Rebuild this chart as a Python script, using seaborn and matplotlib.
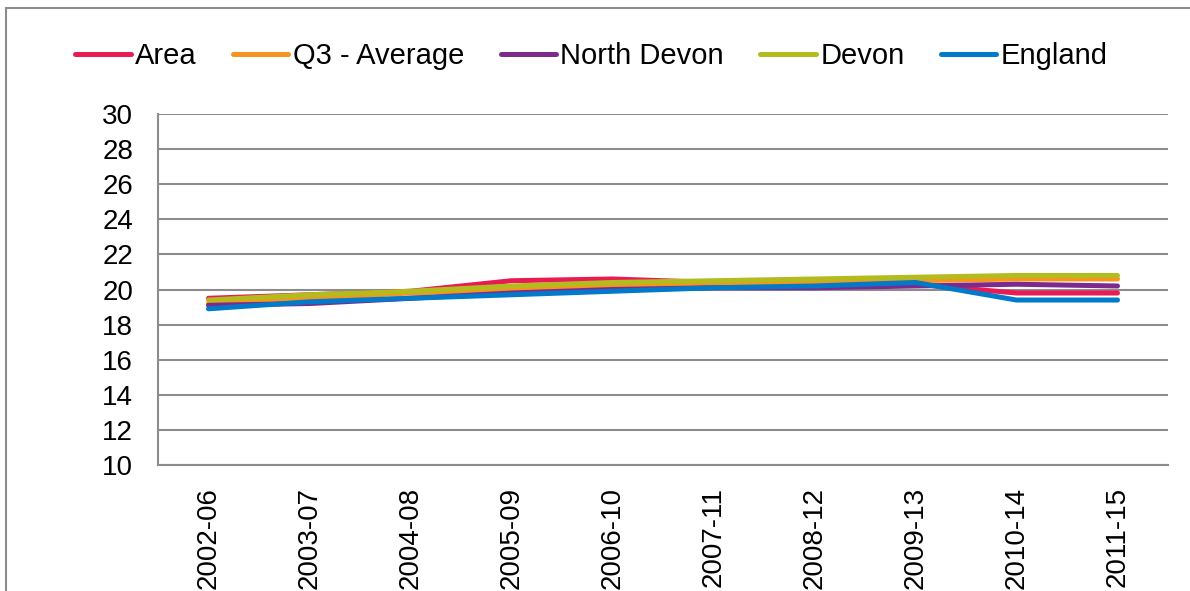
import pandas as pd
import seaborn as sns
import matplotlib.pyplot as plt
from matplotlib.lines import Line2D

# Data
periods = ["2002-06", "2003-07", "2004-08", "2005-09", "2006-10",
           "2007-11", "2008-12", "2009-13", "2010-14", "2011-15"]
area = [19.5, 19.7, 19.9, 20.5, 20.6, 20.4, 20.3, 20.3, 19.8, 19.8]
q3_average = [19.2, 19.5, 19.8, 20.0, 20.2, 20.3, 20.4, 20.5, 20.6, 20.6]
north_devon = [19.1, 19.2, 19.5, 19.8, 20.0, 20.1, 20.1, 20.2, 20.3, 20.2]
devon = [19.4, 19.7, 19.9, 20.2, 20.4, 20.5, 20.6, 20.7, 20.8, 20.8]
england = [18.9, 19.3, 19.5, 19.7, 19.9, 20.1, 20.2, 20.4, 19.4, 19.4]

series = {
    "Area": area,
    "Q3 - Average": q3_average,
    "North Devon": north_devon,
    "Devon": devon,
    "England": england,
}
colours = {
    "Area": "#EA1A55",
    "Q3 - Average": "#F7941D",
    "North Devon": "#7D2A8F",
    "Devon": "#B3BC1E",
    "England": "#007AC9",
}

df = pd.DataFrame(
    [(p, name, v) for name, vals in series.items() for p, v in zip(periods, vals)],
    columns=["period", "series", "value"],
)

sns.set_style("white")
plt.rcParams["font.family"] = ["Liberation Sans", "DejaVu Sans"]
plt.rcParams["text.color"] = "black"
plt.rcParams["xtick.labelcolor"] = "black"
plt.rcParams["ytick.labelcolor"] = "black"

fig = plt.figure(figsize=(11.9, 5.91), dpi=100)
ax = fig.add_axes([158 / 1190, 126 / 591, 1010 / 1190, 351 / 591])

sns.lineplot(data=df, x="period", y="value", hue="series", palette=colours,
             sort=False, linewidth=3.6, ax=ax, legend=False)
for line in ax.get_lines():
    line.set_solid_capstyle("round")
    line.set_solid_joinstyle("round")

# axes styling
ax.set_xlim(-0.5, len(periods) - 0.5)
ax.set_ylim(10, 30)
ax.set_yticks(range(10, 31, 2))
ax.set_xticks(range(len(periods)))
ax.set_xticklabels(periods, rotation=90, fontsize=20)
ax.set_xticks([i - 0.5 for i in range(len(periods) + 1)], minor=True)
ax.tick_params(axis="x", which="major", length=0, pad=16)
ax.tick_params(axis="x", which="minor", length=9, width=1.5, color="#8c8c8c")
ax.tick_params(axis="y", length=9, width=1.5, color="#8c8c8c", labelsize=20, pad=9)
ax.set_xlabel("")
ax.set_ylabel("")
ax.grid(axis="y", color="#8c8c8c", linewidth=1.5)
ax.set_axisbelow(True)
for side in ["top", "right"]:
    ax.spines[side].set_visible(False)
for side in ["left", "bottom"]:
    ax.spines[side].set_color("#8c8c8c")
    ax.spines[side].set_linewidth(1.5)

# legend across the top
handles = [Line2D([], [], color=colours[n], linewidth=3.6, solid_capstyle="round")
           for n in series]
fig.legend(handles, list(series), loc="center", bbox_to_anchor=(0.497, 1 - 56 / 591),
           ncol=5, frameon=False, fontsize=21, handlelength=1.9,
           handletextpad=0.15, columnspacing=1.25)

# chart border (left and top edges visible)
fig.add_artist(Line2D([6 / 1190, 6 / 1190], [0, 1 - 8 / 591], color="#8c8c8c",
                      linewidth=1.5, transform=fig.transFigure))
fig.add_artist(Line2D([6 / 1190, 1], [1 - 8 / 591, 1 - 8 / 591], color="#8c8c8c",
                      linewidth=1.5, transform=fig.transFigure))

fig.savefig("out.png", dpi=100)
